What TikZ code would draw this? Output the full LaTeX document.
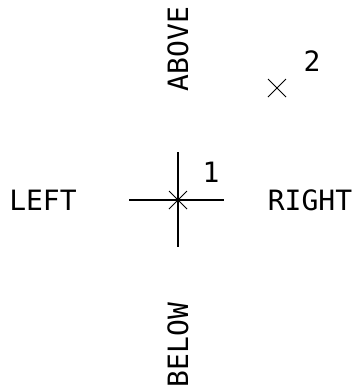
\documentclass[tikz,border=0pt]{standalone}
\usepackage{fontspec}
\setmonofont{DejaVu Sans Mono}
\usepackage{tikz}
\usetikzlibrary{calc}

\begin{document}
\begin{tikzpicture}[every node/.style={font=\ttfamily\fontsize{28}{28}\selectfont, inner sep=0pt}, x=1pt, y=-1pt, line width=1.3pt]
	\useasboundingbox (0,0) rectangle (353,389);
	\coordinate (p1) at (178,200);
	\coordinate (p2) at (277,88);
	% cross at point 1
	\draw (129,200) -- (224,200);
	\draw (178,152) -- (178,247);
	\draw[line width=0.9pt] ($(p1)+(-9,-9)$) -- ($(p1)+(9,9)$) ($(p1)+(-9,9)$) -- ($(p1)+(9,-9)$);
	\fill (p1) circle (2.5pt);
	% marker at point 2
	\draw[line width=0.9pt] ($(p2)+(-9,-9)$) -- ($(p2)+(9,9)$) ($(p2)+(-9,9)$) -- ($(p2)+(9,-9)$);
	\node (n1) at (211,172) {1};
	\node (n2) at (312,61) {2};
	\node (left) at (43,200) {LEFT};
	\node (right) at (310,200) {RIGHT};
	\node[rotate=90] (above) at (178,49) {ABOVE};
	\node[rotate=90] (below) at (178,345) {BELOW};
	\end{tikzpicture}
\end{document}
